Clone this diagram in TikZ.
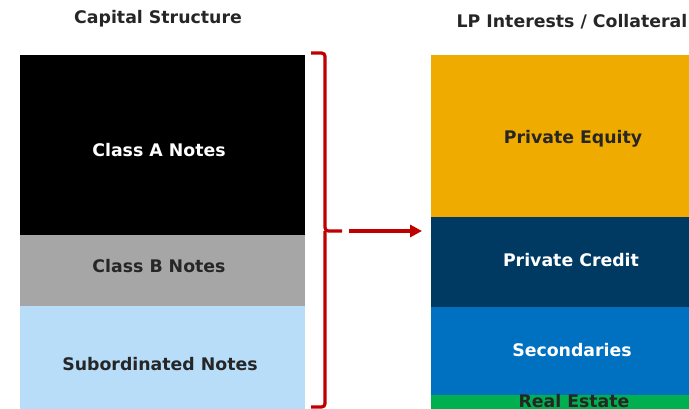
\documentclass[tikz,border=0pt]{standalone}
\usepackage{fontspec}
\setmainfont{DejaVu Sans}
\usetikzlibrary{arrows.meta}
\definecolor{clsA}{HTML}{000000}
\definecolor{clsB}{HTML}{A6A6A6}
\definecolor{subn}{HTML}{B7DDF9}
\definecolor{peq}{HTML}{F0AB00}
\definecolor{pcr}{HTML}{003A63}
\definecolor{sec}{HTML}{0070C0}
\definecolor{rest}{HTML}{00B050}
\definecolor{brk}{HTML}{C00000}
\begin{document}
\begin{tikzpicture}[x=0.75pt,y=-0.75pt,
  lbl/.style={font=\bfseries\fontsize{13}{15}\selectfont},
  ttl/.style={font=\bfseries\fontsize{13}{15}\selectfont, text=black!85},
  brkline/.style={draw=brk, line width=2.4pt, rounded corners=2.5pt},
  arr/.style={draw=brk, line width=2.4pt, -{Triangle[length=9pt,width=9pt]}}]
\useasboundingbox (0,0) rectangle (689,409);
\begin{scope}
\clip (0,0) rectangle (689,409);
% left column
\fill[clsA] (20,55) rectangle (305,235);
\fill[clsB] (20,235) rectangle (305,306);
\fill[subn] (20,306) rectangle (305,430);
% right column
\fill[peq] (431,55) rectangle (716,217);
\fill[pcr] (431,217) rectangle (716,307);
\fill[sec] (431,307) rectangle (716,395);
\fill[rest] (431,395) rectangle (716,430);
\node[lbl, text=white] (a) at (159,150) {Class A Notes};
\node[lbl, text=black!85] (b) at (159,266) {Class B Notes};
\node[lbl, text=black!85] (s) at (160,364) {Subordinated Notes};
\node[lbl, text=black!85] (pe) at (573,139) {Private Equity};
\node[lbl, text=white] (pc) at (571,260) {Private Credit};
\node[lbl, text=white] (se) at (572,350) {Secondaries};
\node[lbl, text=black!85] (re) at (574,401.5) {Real Estate};
\node[ttl] (t1) at (158,19) {Capital Structure};
\node[ttl] (t2) at (572,22) {LP Interests / Collateral};
% bracket
\coordinate (bt) at (311,53);
\coordinate (bb) at (311,407);
\coordinate (bm) at (342,231);
\draw[brkline] (bt) -- (325,53) -- (325,231) -- (bm);
\draw[brkline] (325,231) -- (325,407) -- (bb);
\coordinate (as) at (349,231);
\coordinate (ae) at (422,231);
\draw[arr] (as) -- (ae);
\end{scope}
\end{tikzpicture}
\end{document}
